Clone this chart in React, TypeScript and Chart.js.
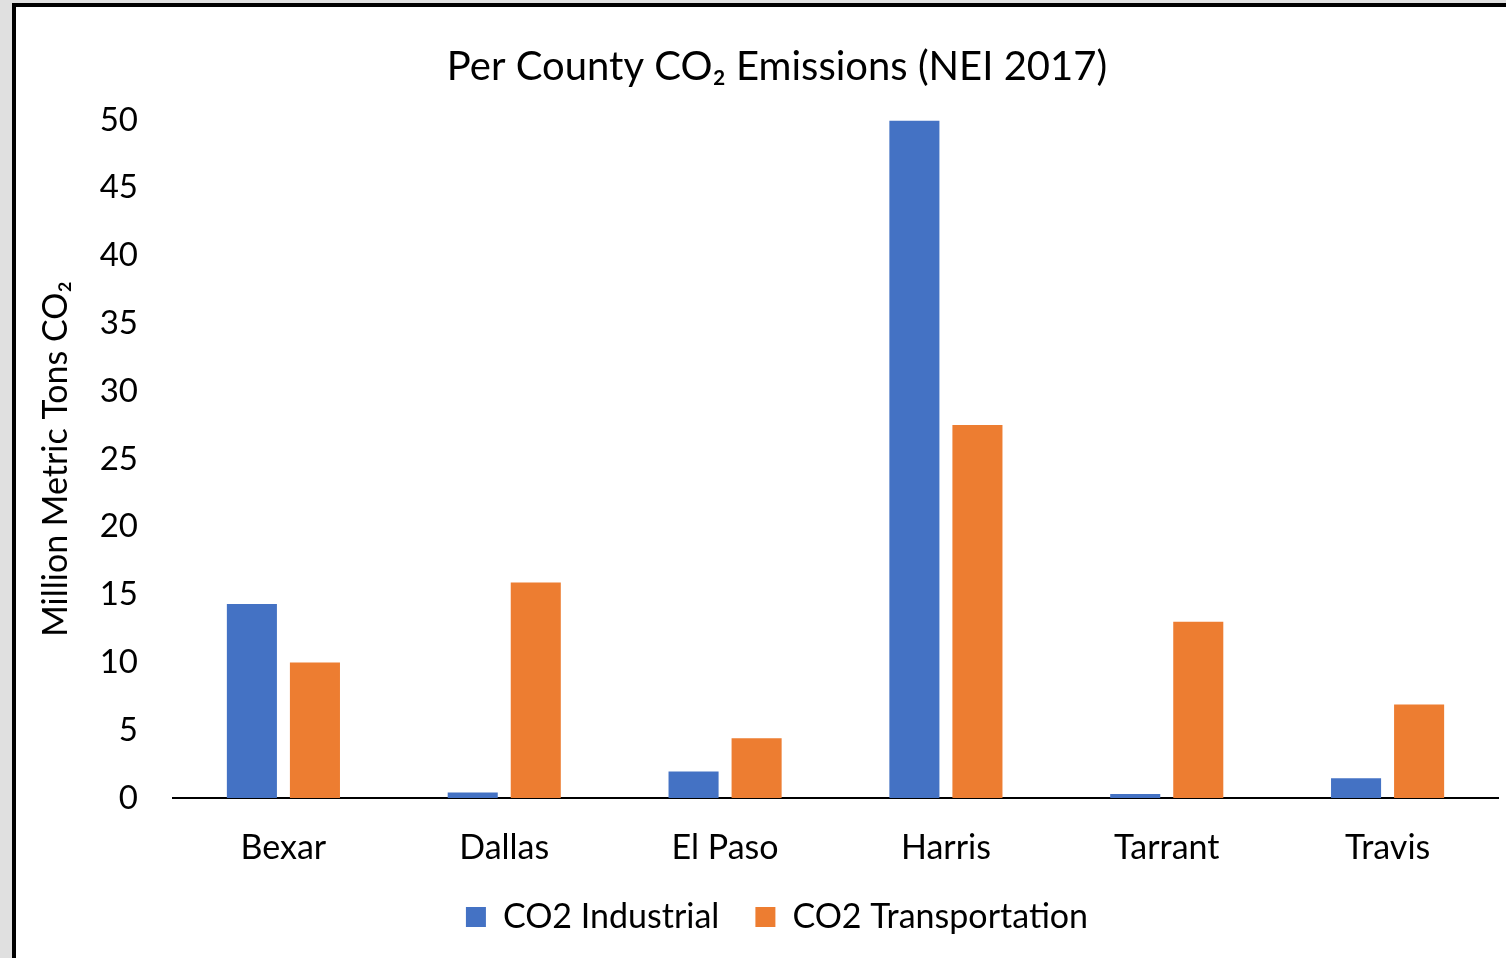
import React, { useEffect, useRef } from "react";
import { Chart, registerables } from "chart.js";

Chart.register(...registerables);

const counties = ["Bexar", "Dallas", "El Paso", "Harris", "Tarrant", "Travis"];
const industrial = [14.3, 0.4, 1.95, 49.95, 0.3, 1.45];
const transportation = [10.0, 15.9, 4.4, 27.5, 13.0, 6.9];
const seriesNames = ["CO2 Industrial", "CO2 Transportation"];
const chartTitle = "Per County CO\u2082 Emissions (NEI 2017)";
const yTitle = "Million Metric Tons CO\u2082";

const FONT = "Lato, 'Open Sans', sans-serif";

export default function App() {
  const ref = useRef<HTMLCanvasElement | null>(null);

  useEffect(() => {
    document.body.style.margin = "0";
    if (!ref.current) return;
    const chart = new Chart(ref.current, {
      type: "bar",
      data: {
        labels: counties,
        datasets: [
          {
            label: seriesNames[0],
            data: industrial,
            backgroundColor: "#4472C4",
            categoryPercentage: 0.571,
            barPercentage: 0.794,
          },
          {
            label: seriesNames[1],
            data: transportation,
            backgroundColor: "#ED7D31",
            categoryPercentage: 0.571,
            barPercentage: 0.794,
          },
        ],
      },
      options: {
        responsive: false,
        animation: false,
        devicePixelRatio: 1,
        layout: { padding: { left: 40, right: 40, top: 0, bottom: 20 } },
        plugins: {
          title: {
            display: true,
            text: chartTitle,
            color: "#000",
            font: { family: FONT, size: 40, weight: "normal" },
            padding: { top: 36, bottom: 29 },
          },
          legend: {
            position: "bottom",
            labels: {
              color: "#000",
              font: { family: FONT, size: 34 },
              boxWidth: 20,
              boxHeight: 20,
              padding: 36,
            },
          },
          tooltip: { enabled: false },
        },
        scales: {
          x: {
            grid: { display: false },
            border: { display: true, color: "#000", width: 2 },
            ticks: {
              color: "#000",
              font: { family: FONT, size: 34 },
              padding: 22,
            },
            afterFit: (s: any) => {
              s.height = 66;
            },
          },
          y: {
            min: 0,
            max: 50,
            grid: { display: false },
            border: { display: false },
            ticks: {
              stepSize: 5,
              color: "#000",
              font: { family: FONT, size: 33 },
              padding: 27,
            },
            title: {
              display: true,
              text: yTitle,
              color: "#000",
              font: { family: FONT, size: 34 },
              padding: { top: -20, bottom: 0 },
            },
            afterFit: (s: any) => {
              s.width = 117;
            },
          },
        },
      },
    });
    return () => chart.destroy();
  }, []);

  return (
    <div
      style={{
        position: "fixed",
        left: 0,
        top: 0,
        width: 1506,
        height: 958,
        overflow: "hidden",
        background: "#e0e0e0",
      }}
    >
      <div
        style={{
          position: "absolute",
          left: 12,
          top: 3,
          width: 1600,
          height: 1100,
          borderLeft: "4px solid #000",
          borderTop: "4px solid #000",
          background: "#fff",
        }}
      >
        <canvas ref={ref} width={1522} height={957} style={{ display: "block" }} />
      </div>
    </div>
  );
}
